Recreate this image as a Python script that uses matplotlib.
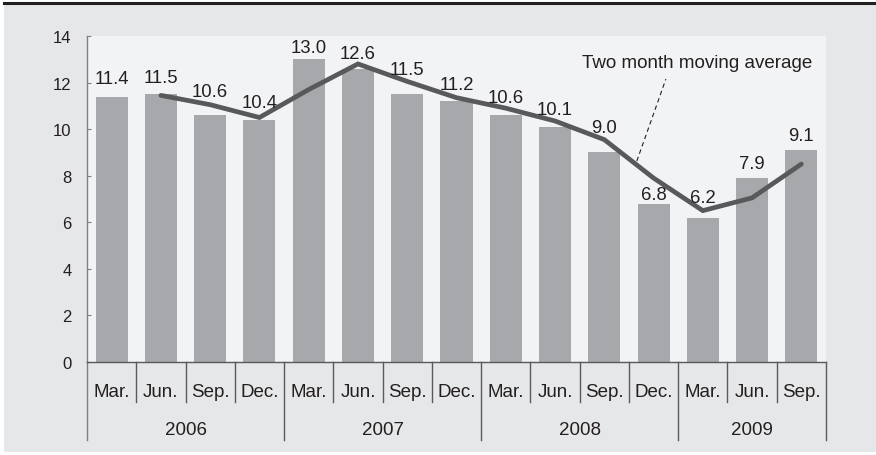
import matplotlib.pyplot as plt
from matplotlib.patches import Rectangle
from matplotlib.lines import Line2D
import matplotlib.transforms as mtransforms

plt.rcParams['font.family'] = ['Liberation Sans', 'DejaVu Sans']

# Data
months = ['Mar.', 'Jun.', 'Sep.', 'Dec.'] * 3 + ['Mar.', 'Jun.', 'Sep.']
years = ['2006', '2007', '2008', '2009']
year_counts = [4, 4, 4, 3]
values = [11.4, 11.5, 10.6, 10.4, 13.0, 12.6, 11.5, 11.2,
          10.6, 10.1, 9.0, 6.8, 6.2, 7.9, 9.1]
# two month moving average, starts at second quarter
avg_values = [11.45, 11.05, 10.5, 11.7, 12.8, 12.05, 11.35,
              10.9, 10.35, 9.55, 7.9, 6.5, 7.05, 8.5]

# value label baselines (placed by hand to clear the line)
label_y = [11.98, 12.01, 11.41, 10.94, 13.33, 13.04, 12.38, 11.72,
           11.18, 10.65, 9.89, 7.0, 6.88, 8.33, 9.53]

text_c = '#231f20'
bar_c = '#a7a8ab'
line_c = '#58595b'
sep_c = '#58595b'

fig = plt.figure(figsize=(8.76, 4.56), dpi=100, facecolor='white')
W, H = 876, 456

# outer gray panel and top rule
fig.add_artist(Rectangle((4 / W, 3 / H), 872 / W, 448 / H,
                         transform=fig.transFigure, facecolor='#e6e7e8',
                         edgecolor='none', zorder=-10))
fig.add_artist(Line2D([4 / W, 1], [1 - 3.5 / H, 1 - 3.5 / H],
                      transform=fig.transFigure, color='#231f20', lw=2.2))

ax = fig.add_axes([87 / W, 1 - 363 / H, 739 / W, 326 / H])
ax.set_facecolor('#f2f3f4')

x = list(range(len(values)))
ax.bar(x, values, width=0.65, color=bar_c, zorder=2)
ax.plot(x[1:], avg_values, color=line_c, lw=3.4, zorder=3,
        solid_joinstyle='miter', solid_capstyle='round')

for xi, v, ly in zip(x, values, label_y):
    ax.text(xi, ly, f'{v:.1f}', ha='center', va='baseline', fontsize=13.3,
            color=text_c, zorder=4)

ax.set_xlim(-0.5, len(values) - 0.5)
ax.set_ylim(0, 14)
ax.set_yticks(range(0, 15, 2))
ax.tick_params(axis='y', direction='in', length=3, width=0.8, color='#808080',
               labelsize=12, labelcolor=text_c, pad=11)
ax.set_xticks([])
for s in ['top', 'right']:
    ax.spines[s].set_visible(False)
ax.spines['left'].set_color('#808080')
ax.spines['left'].set_linewidth(1.0)
ax.spines['bottom'].set_color(sep_c)
ax.spines['bottom'].set_linewidth(1.0)

# category axis: months and years
trans = mtransforms.blended_transform_factory(ax.transData, ax.transAxes)
month_y = -40 / 326
year_y = -78 / 326
for i, m in enumerate(months):
    ax.text(i, -30 / 326, m, transform=trans, ha='center', va='center',
            fontsize=13.5, color=text_c)
bounds = [-0.5]
for c in year_counts:
    bounds.append(bounds[-1] + c)
for i in range(len(values) + 1):
    b = i - 0.5
    y1 = year_y if b in bounds else month_y
    ax.plot([b, b], [0, y1], transform=trans, color=sep_c if b != -0.5 else '#808080',
            lw=1.0, clip_on=False)
for yr, b0, b1 in zip(years, bounds[:-1], bounds[1:]):
    ax.text((b0 + b1) / 2, -68 / 326, yr, transform=trans, ha='center',
            va='center', fontsize=13.5, color=text_c)

# annotation
ax.plot([10.66, 11.25], [8.63, 12.15], color=text_c, lw=0.8,
        ls=(0, (4, 3)), zorder=4)
ax.text(11.88, 12.88, 'Two month moving average', ha='center', va='center',
        fontsize=13.5, color=text_c)

fig.savefig('out.png', dpi=100, facecolor=fig.get_facecolor())
